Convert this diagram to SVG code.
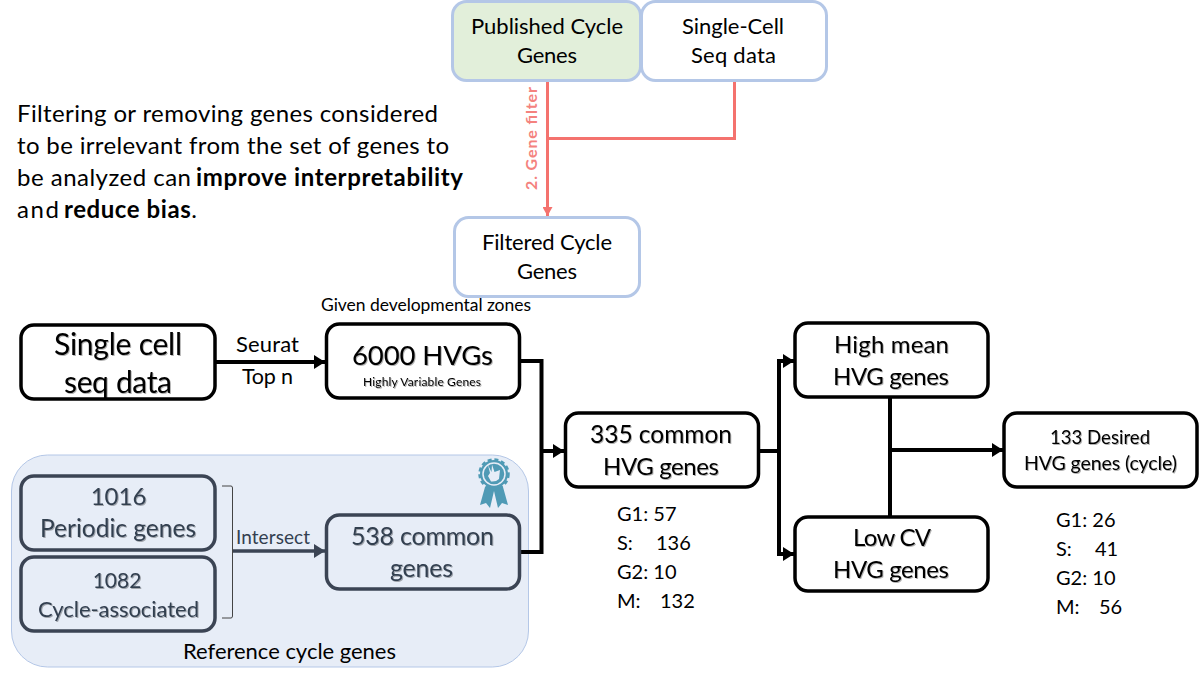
<svg xmlns="http://www.w3.org/2000/svg" width="1199" height="679" viewBox="0 0 1199 679">
<style>
text{font-family:"Lato","Open Sans","Liberation Sans",sans-serif;fill:#000;text-anchor:middle}
.l{text-anchor:start}
.b{fill:none;stroke:#000;stroke-width:3.500}
.d{fill:none;stroke:#3b4454;stroke-width:3.500}
.p{fill:#fff;stroke:#b4c7e7;stroke-width:3}
.c{fill:none;stroke:#000;stroke-width:4}
.k text{fill:#333f50}
.s text{filter:url(#sh)}
</style>
<defs>
<filter id="sh" x="-5%" y="-20%" width="110%" height="150%"><feDropShadow dx="1" dy="1" stdDeviation="0.700" flood-color="#000" flood-opacity="0.300"/></filter>
<marker id="ah" markerUnits="userSpaceOnUse" markerWidth="12" markerHeight="14" refX="11" refY="7" orient="auto"><path d="M0 0L11 7L0 14Z" fill="#000"/></marker>
<marker id="ad" markerUnits="userSpaceOnUse" markerWidth="12" markerHeight="14" refX="11" refY="7" orient="auto"><path d="M0 0L11 7L0 14Z" fill="#3b4454"/></marker>
<marker id="ar" markerUnits="userSpaceOnUse" markerWidth="10" markerHeight="10" refX="9" refY="5" orient="auto"><path d="M0 0L9 5L0 10Z" fill="#f4726e"/></marker>
</defs>
<g id="intro" font-size="24">
<text class="l" x="17" y="122" textLength="421">Filtering or removing genes considered</text>
<text class="l" x="17" y="154" textLength="432">to be irrelevant from the set of genes to</text>
<text class="l" x="17" y="186" textLength="174">be analyzed can</text>
<text class="l" x="196" y="186" textLength="267" font-weight="700">improve interpretability</text>
<text class="l" x="17" y="218" textLength="42">and</text>
<text class="l" x="64" y="218" textLength="133"><tspan font-weight="700">reduce bias</tspan>.</text>
</g>
<g id="reference-panel">
<rect x="11.500" y="455" width="517" height="212" rx="36" fill="#e7edf7" stroke="#b4c7e7" stroke-width="1"/>
<text x="289.500" y="659" font-size="22" textLength="213">Reference cycle genes</text>
</g>
<g id="badge" fill="#4f9ab5">
<path d="M485 487L480 505L486 503L490 508L494 491L498 508L502 503L508 505L503 487Z"/>
<circle cx="494" cy="474" r="14"/>
<circle cx="494" cy="474" r="14.500" fill="none" stroke="#4f9ab5" stroke-width="2.500" stroke-dasharray="4 2.830"/>
<circle cx="494" cy="474" r="11" fill="none" stroke="#e7edf7" stroke-width="1.500"/>
<path d="M488 465L491.500 472L492 464.500L494.500 472L500 470L499 479Q496 482 491 481.500L488 476L490 473Z" fill="#e7edf7"/>
</g>
<g id="connectors">
<g fill="none" stroke="#f4726e" stroke-width="3">
<path d="M547.500 81V216" marker-end="url(#ar)"/>
<path d="M734.500 80V138.500H547.500"/>
</g>
<path class="c" d="M216 362H325" marker-end="url(#ah)"/>
<path class="c" d="M520 361H541.500V552H520"/>
<path class="c" d="M541.500 451H564" marker-end="url(#ah)"/>
<path d="M233 551H325" fill="none" stroke="#3b4454" stroke-width="3.500" marker-end="url(#ad)"/>
<path d="M222 486H231Q232.500 486 232.500 488V616Q232.500 618 231 618H222" fill="none" stroke="#444" stroke-width="1"/>
<path class="c" d="M759 451H779V361H794" marker-end="url(#ah)"/>
<path class="c" d="M779 451V554H794" marker-end="url(#ah)"/>
<path class="c" d="M890 397V516"/>
<path class="c" d="M890 450H1003" marker-end="url(#ah)"/>
</g>
<g id="published-cycle-genes"><rect x="452.500" y="1.500" width="188" height="79" rx="14" fill="#e2efda" stroke="#b4c7e7" stroke-width="3"/><text x="547" y="34" font-size="22" textLength="152">Published Cycle</text><text x="547" y="63" font-size="22" textLength="60">Genes</text></g>
<g id="single-cell-seq-data"><rect class="p" x="641.500" y="1.500" width="185" height="79" rx="14"/><text x="733" y="34" font-size="22" textLength="102">Single-Cell</text><text x="733.500" y="63" font-size="22" textLength="85">Seq data</text></g>
<g id="gene-filter-label"><text transform="translate(537 138.500) rotate(-90)" font-size="16" font-weight="700" textLength="103" style="fill:#f4827e">2. Gene filter</text></g>
<g id="filtered-cycle-genes"><rect class="p" x="454.500" y="217.500" width="185" height="79" rx="14"/><text x="547" y="250" font-size="22" textLength="130">Filtered Cycle</text><text x="547" y="279" font-size="22" textLength="60">Genes</text></g>
<g id="single-cell" class="s"><rect class="b" x="21" y="325" width="194" height="74" rx="13"/><text x="118" y="355" font-size="30" textLength="128">Single cell</text><text x="118" y="393" font-size="30" textLength="108">seq data</text></g>
<g id="seurat-labels"><text x="267.500" y="352" font-size="22" textLength="63">Seurat</text><text x="267.500" y="384" font-size="21.500" textLength="51">Top n</text></g>
<g id="zones-label"><text x="426" y="311" font-size="17.500" textLength="210">Given developmental zones</text></g>
<g id="hvgs-6000" class="s"><rect class="b" x="326.500" y="324" width="193" height="74" rx="13"/><text x="422.500" y="365" font-size="27.500" textLength="141">6000 HVGs</text><text x="422" y="386" font-size="12" textLength="118">Highly Variable Genes</text></g>
<g id="periodic" class="k s"><rect class="d" x="21" y="476" width="194" height="74" rx="13"/><text x="118.500" y="505" font-size="24">1016</text><text x="118" y="537" font-size="24.500" textLength="156">Periodic genes</text></g>
<g id="cycle-associated" class="k s"><rect class="d" x="21" y="557" width="194" height="74" rx="13"/><text x="117" y="588" font-size="21">1082</text><text x="118.500" y="617" font-size="22" textLength="161">Cycle-associated</text></g>
<g id="intersect-label" class="k"><text x="273" y="544" font-size="19" textLength="74">Intersect</text></g>
<g id="common-538" class="k s"><rect class="d" x="326.500" y="515" width="193" height="74" rx="13"/><text x="422.500" y="545" font-size="25" textLength="143">538 common</text><text x="421.500" y="577" font-size="25" textLength="63">genes</text></g>
<g id="common-335" class="s"><rect class="b" x="565.500" y="413" width="193" height="74" rx="13"/><text x="661" y="443" font-size="24.500" textLength="142">335 common</text><text x="661" y="475" font-size="24" textLength="116">HVG genes</text></g>
<g id="high-mean" class="s"><rect class="b" x="795" y="323" width="193" height="74" rx="13"/><text x="891.500" y="353" font-size="24" textLength="115">High mean</text><text x="891" y="385" font-size="24" textLength="116">HVG genes</text></g>
<g id="low-cv" class="s"><rect class="b" x="795" y="517" width="193" height="74" rx="13"/><text x="892" y="546" font-size="24" textLength="78">Low CV</text><text x="891" y="578" font-size="24" textLength="116">HVG genes</text></g>
<g id="desired" class="s"><rect class="b" x="1004" y="413" width="193" height="74" rx="13"/><text x="1100" y="444" font-size="18.500" textLength="100">133 Desired</text><text x="1100.500" y="470" font-size="19.500" textLength="153">HVG genes (cycle)</text></g>
<g id="counts-335" font-size="20">
<text class="l" x="617" y="521">G1: 57</text><text class="l" x="617" y="550">S:</text><text class="l" x="656" y="550">136</text><text class="l" x="617" y="579">G2: 10</text><text class="l" x="617" y="608">M:</text><text class="l" x="660" y="608">132</text>
</g>
<g id="counts-133" font-size="20">
<text class="l" x="1056" y="527">G1: 26</text><text class="l" x="1056" y="556">S:</text><text class="l" x="1095" y="556">41</text><text class="l" x="1056" y="585">G2: 10</text><text class="l" x="1056" y="614">M:</text><text class="l" x="1099" y="614">56</text>
</g>
</svg>
